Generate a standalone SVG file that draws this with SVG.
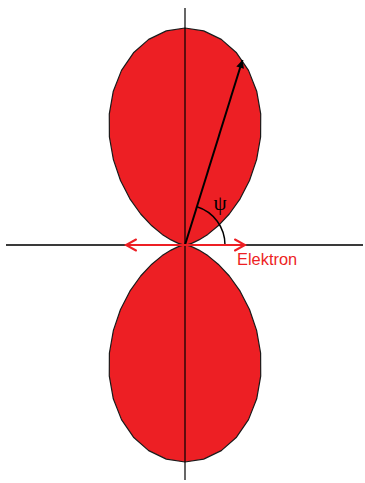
<svg xmlns="http://www.w3.org/2000/svg" width="365" height="483" viewBox="0 0 365 483">
<style>
.lobe{fill:#ed1f24;stroke:#1a1a1a;stroke-width:1.2;stroke-linejoin:round}
.red{stroke:#ed1f24;stroke-width:2;fill:none;stroke-linecap:round}
</style>
<defs>
<marker id="ah" markerWidth="10" markerHeight="10" refX="9" refY="5" orient="auto" markerUnits="userSpaceOnUse">
<path d="M1,1 L9,5 L1,9 Z" fill="#000"/>
</marker>
</defs>
<rect width="365" height="483" fill="#fff"/>
<g id="lobe-top">
<path class="lobe" d="M185,245 L185.5,245 L187.7,244.5 L192.2,243.1 L198.9,239.9 L207.8,234.4 L218.2,225.8 L229.3,214 L240.1,198.8 L249.5,180.5 L256.6,159.6 L260.6,137 L260.7,113.8 L256.7,91.2 L248.5,70.4 L236.5,52.8 L221.3,39.4 L203.7,30.9 L185,28 L166.3,30.9 L148.7,39.4 L133.5,52.8 L121.5,70.4 L113.3,91.2 L109.3,113.8 L109.4,137 L113.4,159.6 L120.5,180.5 L129.9,198.8 L140.7,214 L151.8,225.8 L162.2,234.4 L171.1,239.9 L177.8,243.1 L182.3,244.5 L184.5,245 Z"/>
</g>
<g id="lobe-bottom">
<path class="lobe" d="M185,245 L185.5,245 L187.7,245.5 L192.2,246.9 L198.9,250.1 L207.8,255.6 L218.2,264.2 L229.3,276 L240.1,291.2 L249.5,309.5 L256.6,330.4 L260.6,353 L260.7,376.2 L256.7,398.8 L248.5,419.6 L236.5,437.2 L221.3,450.6 L203.7,459.1 L185,462 L166.3,459.1 L148.7,450.6 L133.5,437.2 L121.5,419.6 L113.3,398.8 L109.3,376.2 L109.4,353 L113.4,330.4 L120.5,309.5 L129.9,291.2 L140.7,276 L151.8,264.2 L162.2,255.6 L171.1,250.1 L177.8,246.9 L182.3,245.5 L184.5,245 Z"/>
</g>
<g id="connectors">
<line x1="6" y1="245" x2="363" y2="245" stroke="#3a3a3a" stroke-width="2"/>
<line x1="185" y1="8" x2="185" y2="480" stroke="#000" stroke-width="1.2"/>
<line x1="185" y1="245" x2="242.5" y2="60" stroke="#000" stroke-width="2" marker-end="url(#ah)"/>
<path d="M225,245 A40,40 0 0 0 197,206.8" fill="none" stroke="#000" stroke-width="1.5"/>
<line class="red" x1="126" y1="245" x2="245" y2="245"/>
<path class="red" d="M136,239.5 L126,245 L136,250.5"/>
<path class="red" d="M235,239.5 L245,245 L235,250.5"/>
</g>
<g id="labels">
<text x="220" y="210" font-family="Liberation Serif, Times New Roman, serif" font-size="21" text-anchor="middle" fill="#000">ψ</text>
<text x="237" y="265" font-family="Liberation Sans, Arial, sans-serif" font-size="16.4" fill="#ed1f24">Elektron</text>
</g>
</svg>
